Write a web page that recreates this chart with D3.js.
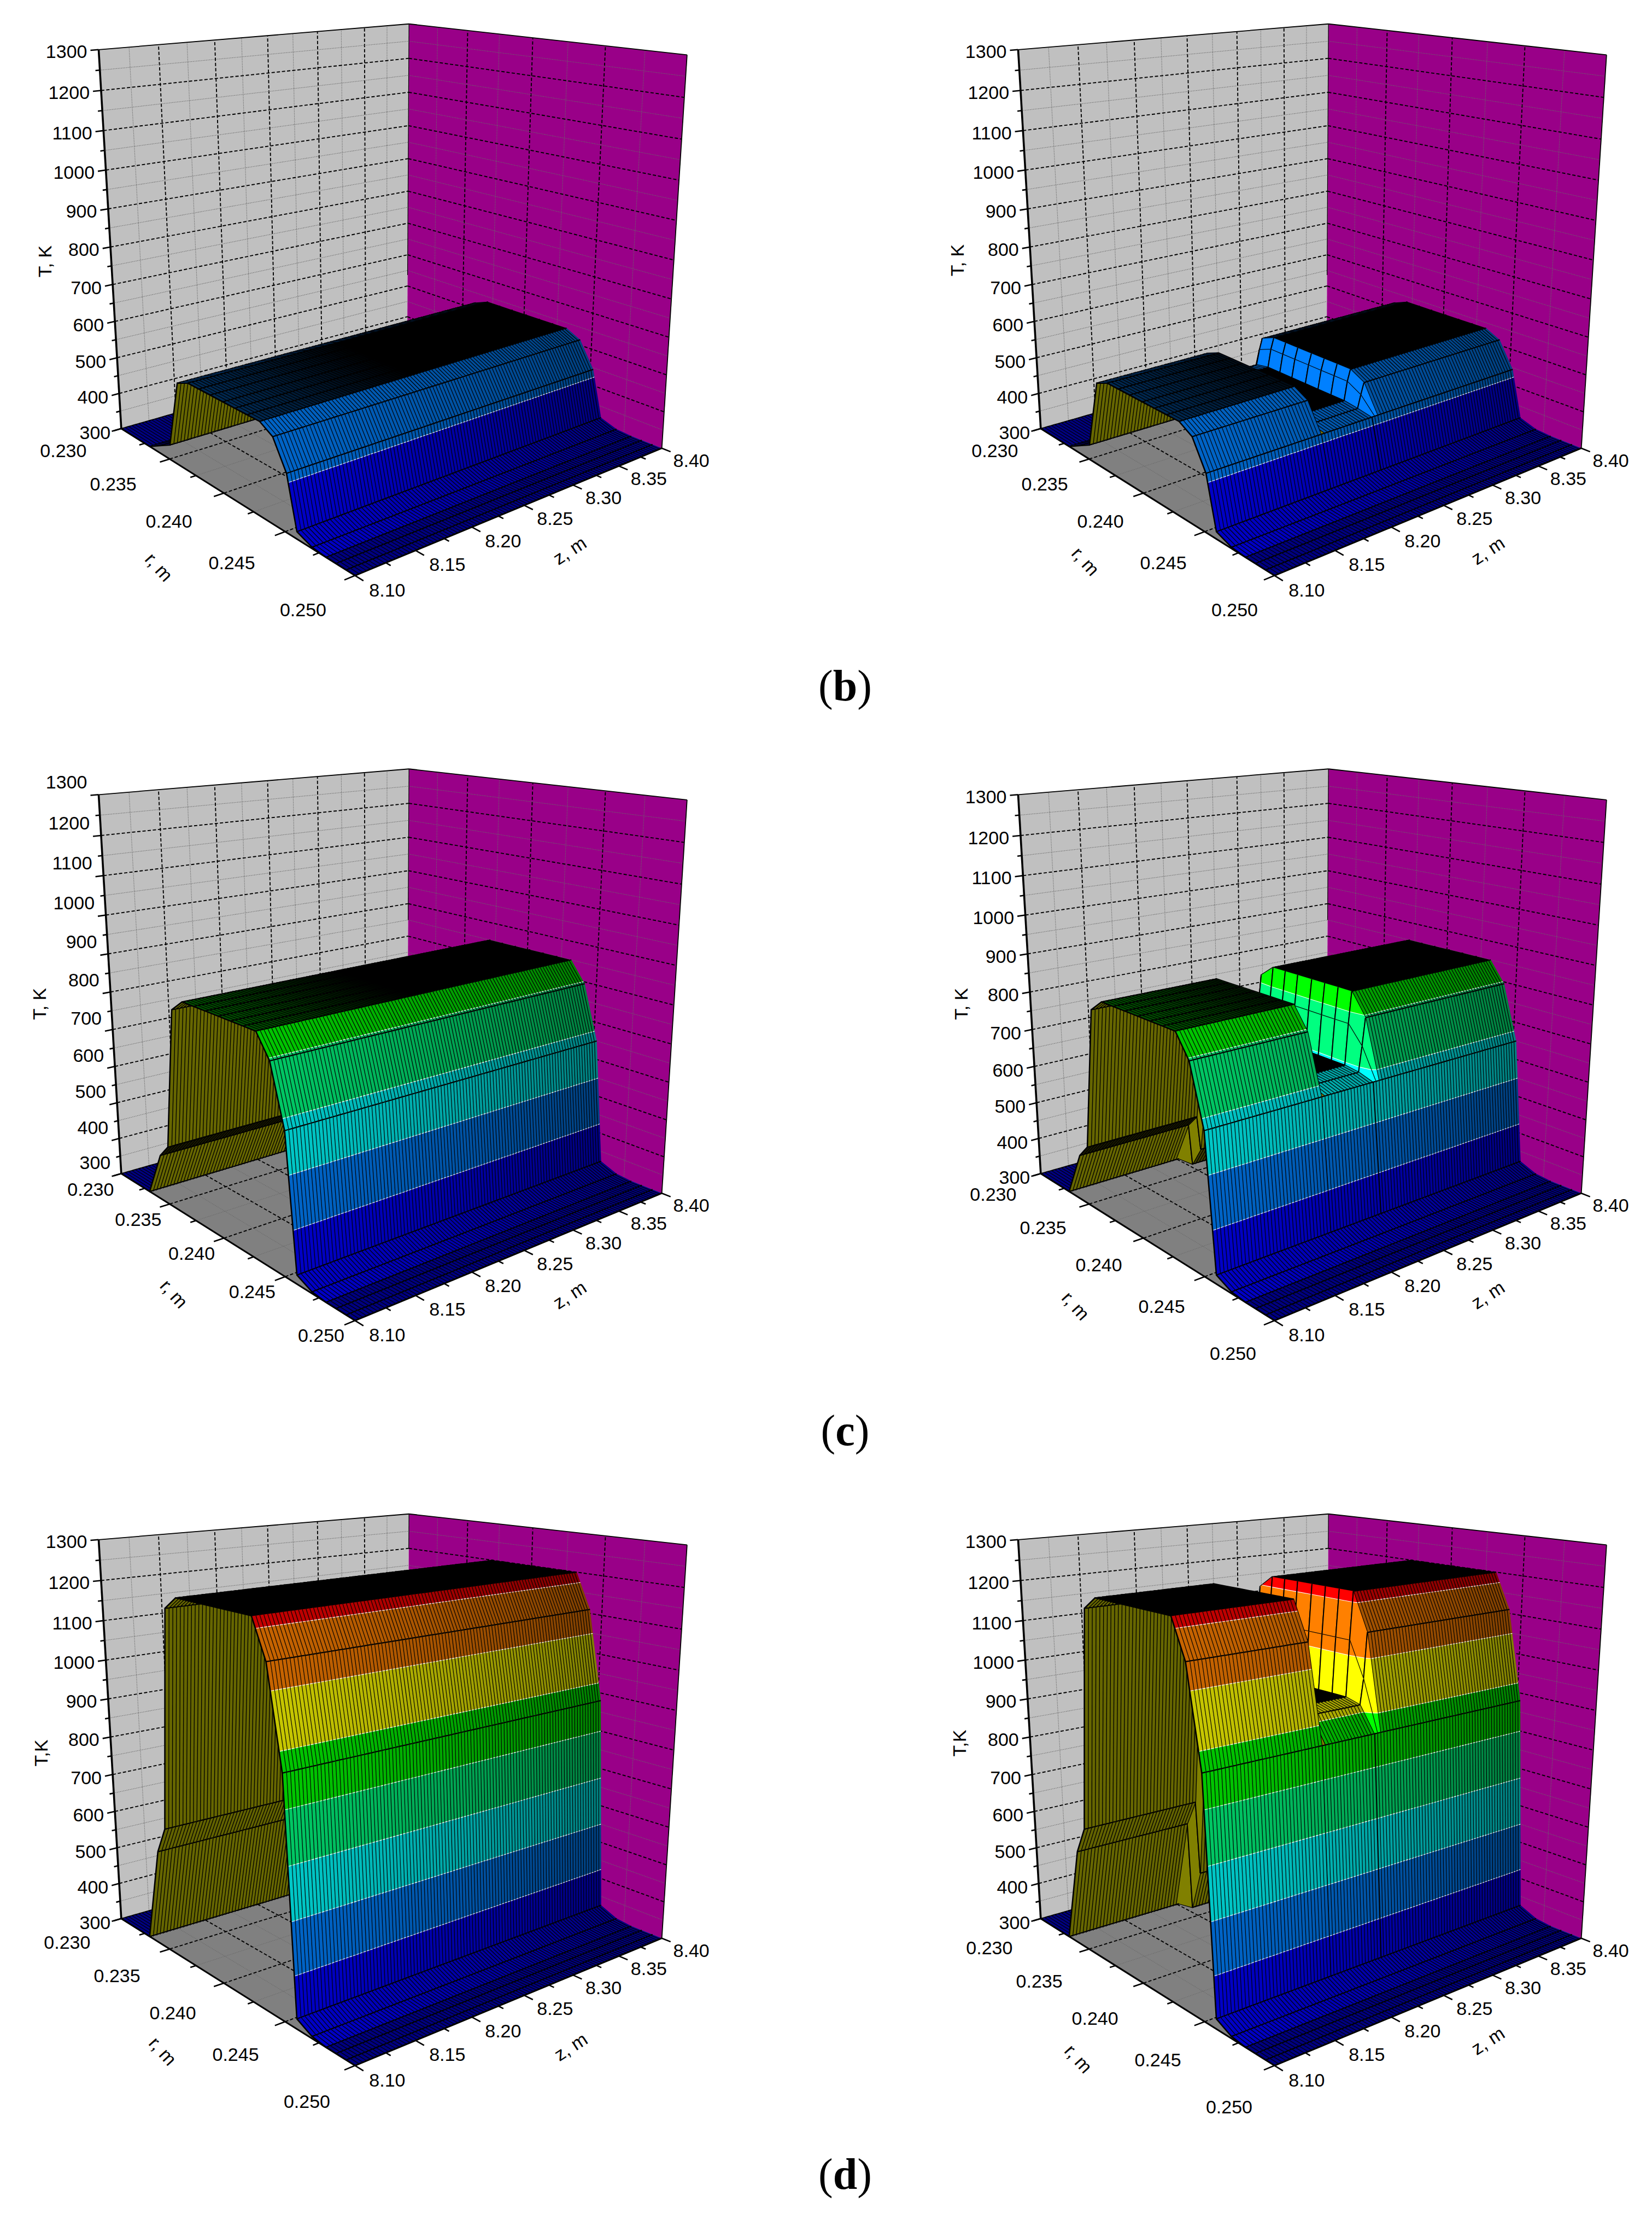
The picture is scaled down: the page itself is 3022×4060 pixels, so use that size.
<!DOCTYPE html>
<html><head><meta charset="utf-8">
<style>html,body{margin:0;padding:0;background:#fff}svg{display:block}text{font-family:"Liberation Sans",Arial,sans-serif;fill:#000}</style>
<script src="https://cdn.jsdelivr.net/npm/d3@7/dist/d3.min.js"></script>
</head><body><svg id="c" width="3022" height="4060"></svg>
<script>
// ---------- data ----------
const tempTicks = [300,400,500,600,700,800,900,1000,1100,1200,1300];
const rTicks = ["0.230","0.235","0.240","0.245","0.250"];
const zTicks = ["8.10","8.15","8.20","8.25","8.30","8.35","8.40"];
const bandLevels = [300,425,550,675,800,925,1050,1175,1300];
const bandColors = ["#0000ff","#0080ff","#00ffff","#00ff80","#00ff00","#ffff00","#ff8000","#ff0000"];
// radial mesh nodes (m)
const rNodes = [0.2300,0.2330,0.2343,0.2351,0.2361,0.2371,0.2381,0.2391,0.2402,0.2412,0.2422,0.2432,0.2442,0.2452,0.2459,0.2470,0.2480,0.2487,0.2494,0.2500];
// temperature profiles across r (K), one per stage
const mainB = [300,300,325,340,520,535,535,535,535,535,535,535,515,445,318,303,300,300,300,300];
const mainC = [300,300,420,455,820,850,850,850,850,850,850,850,795,650,322,304,300,300,300,300];
const mainD = [300,300,550,620,1170,1200,1200,1200,1200,1200,1200,1200,1110,880,325,305,300,300,300,300];
// right column: profile inside the gap, and on the step behind it
const gapB = [300,300,302,320,450,457,457,457,457,457,457,457,452,445,318,303,300,300,300,300];
const gapC = [300,300,305,360,655,667,667,667,667,667,667,667,662,650,322,304,300,300,300,300];
const gapD = [300,300,310,420,930,950,950,950,950,950,950,950,940,880,325,305,300,300,300,300];
const stepB = [300,300,315,330,490,505,505,505,505,505,505,505,485,445,318,303,300,300,300,300];
const stepC = [300,300,370,410,745,770,770,770,770,770,770,770,725,650,322,304,300,300,300,300];
const stepD = [300,300,430,520,1050,1085,1085,1085,1085,1085,1085,1085,1000,880,325,305,300,300,300,300];
// ---------- layout ----------
const boxCorners = [[0,0,0,647,1056],[1,0,0,1212,814.5],[0,1,0,223,781.4],[1,1,0,744.4,638.7],[0,1,1,181.3,90.5],[1,1,1,746.9,41.9],[1,0,1,1257.5,103]];
const panels = [
 {cap:"b",dx:0,dy:0,main:mainB,blackFrom:.45,tl:0,rl:[0,0,0,0],Tt:[81.5,478,"T, K"],rt:[291,1037],zt:[1042,1006.6]},
 {cap:null,dx:1682,dy:0,main:mainB,gap:gapB,step:stepB,blackFrom:.45,tl:0,rl:[22,0,22,0],Tt:[1750.7,476,"T, K"],rt:[1986,1026.5],zt:[2721.7,1006.6]},
 {cap:"c",dx:0,dy:1362.5,main:mainC,blackFrom:.45,tl:-27,rl:[50,-11,33,-35],Tt:[72,1836,"T, K"],rt:[318.5,2366],zt:[1042,2368]},
 {cap:null,dx:1682,dy:1362.5,main:mainC,gap:gapC,step:stepC,blackFrom:.45,tl:0,rl:[19,-2.5,19,-2.5],Tt:[1757.5,1836,"T, K"],rt:[1968,2388],zt:[2721.7,2368]},
 {cap:"d",dx:0,dy:2725,main:mainD,blackFrom:0,tl:0,rl:[7,3,7,3],Tt:[75,3206,"T,K"],rt:[298,3751],zt:[1044,3743]},
 {cap:null,dx:1682,dy:2725,main:mainD,gap:gapD,step:stepD,blackFrom:0,tl:0,rl:[12,13,12,13],Tt:[1755,3188,"T,K"],rt:[1973,3765],zt:[2721.7,3732]}
];
const capPos = {b:[1546,1281],c:[1546,2643],d:[1546,4003]};
const uS = d3.scaleLinear().domain([8.10,8.40]).range([0,1]);
const vS = d3.scaleLinear().domain([0.250,0.230]).range([0,1]);
const tS = d3.scaleLinear().domain([300,1300]).range([0,1]);
const zGrid = d3.range(101).map(i=>8.10+i*0.003);
const GAP0=34,GAP1=49,STEP=50,GROOVE=[33,49];

function solve(A,b){const n=b.length;for(let i=0;i<n;i++){let m=i;for(let k=i+1;k<n;k++)if(Math.abs(A[k][i])>Math.abs(A[m][i]))m=k;[A[i],A[m]]=[A[m],A[i]];[b[i],b[m]]=[b[m],b[i]];for(let k=i+1;k<n;k++){const f=A[k][i]/A[i][i];for(let c=i;c<n;c++)A[k][c]-=f*A[i][c];b[k]-=f*b[i];}}const x=Array(n).fill(0);for(let i=n-1;i>=0;i--){let s=b[i];for(let c=i+1;c<n;c++)s-=A[i][c]*x[c];x[i]=s/A[i][i];}return x;}
function fit(c){const M=[],B=[];c.forEach(([u,v,t,x,y])=>{x/=1000;y/=1000;M.push([u,v,t,1,0,0,0,0,-x*u,-x*v,-x*t]);B.push(x);M.push([0,0,0,0,u,v,t,1,-y*u,-y*v,-y*t]);B.push(y);});
 const n=11,A=d3.range(n).map(()=>Array(n).fill(0)),b=Array(n).fill(0);M.forEach((r,k)=>{for(let i=0;i<n;i++){b[i]+=r[i]*B[k];for(let j=0;j<n;j++)A[i][j]+=r[i]*r[j];}});return solve(A,b);}
const H = fit(boxCorners);
const proj0=(u,v,t)=>{const w=1+H[8]*u+H[9]*v+H[10]*t;return[1000*(H[0]*u+H[1]*v+H[2]*t+H[3])/w,1000*(H[4]*u+H[5]*v+H[6]*t+H[7])/w];};
const fmt=n=>n.toFixed(1);
const pathOf=pts=>"M"+pts.map(p=>fmt(p[0])+" "+fmt(p[1])).join("L");

function clip(poly,lo,hi){const cut=(pts,lim,keepAbove)=>{const out=[];for(let i=0;i<pts.length;i++){const a=pts[i],b=pts[(i+1)%pts.length];const ia=keepAbove?a[2]>=lim:a[2]<=lim,ib=keepAbove?b[2]>=lim:b[2]<=lim;if(ia)out.push(a);if(ia!==ib){const s=(lim-a[2])/(b[2]-a[2]);out.push([a[0]+s*(b[0]-a[0]),a[1]+s*(b[1]-a[1]),lim]);}}return out;};let p=cut(poly,lo,true);if(p.length)p=cut(p,hi,false);return p;}

const svg=d3.select("#c");
panels.forEach(drawPanel);
function drawPanel(P){
 const g=svg.append("g");
 const pr=(u,v,T)=>{const q=proj0(u,v,tS(T));return[q[0]+P.dx,q[1]+P.dy];};
 // walls
 const T0=300,T1=1300;
 const poly=(pts,fill)=>g.append("path").attr("d",pathOf(pts)+"Z").attr("fill",fill);
 poly([pr(0,1,T0),pr(1,1,T0),pr(1,1,T1),pr(0,1,T1)],"#c0c0c0");
 poly([pr(1,1,T0),pr(1,0,T0),pr(1,0,T1),pr(1,1,T1)],"#990088");
 poly([pr(0,0,T0),pr(1,0,T0),pr(1,1,T0),pr(0,1,T0)],"#808080");
 const gl=(a,b,major)=>g.append("line").attr("x1",a[0]).attr("y1",a[1]).attr("x2",b[0]).attr("y2",b[1]).attr("stroke",major?"#000":"#6a6a6a").attr("stroke-width",major?1.9:1.1).attr("stroke-dasharray",major?"6 3.5":"1.5 1.5");
 d3.range(0,13).forEach(k=>{const u=uS(8.10+k*.025),m=k%2===0;if(k>0&&k<12){gl(pr(u,1,T0),pr(u,1,T1),m);gl(pr(u,0,T0),pr(u,1,T0),m);}});
 d3.range(0,9).forEach(k=>{const v=vS(.23+k*.0025),m=k%2===0;if(k>0&&k<8){gl(pr(1,v,T0),pr(1,v,T1),m);gl(pr(0,v,T0),pr(1,v,T0),m);}});
 d3.range(1,20).forEach(k=>{const T=300+k*50,m=k%2===0;gl(pr(0,1,T),pr(1,1,T),m);gl(pr(1,1,T),pr(1,0,T),m);});
 // surface
 const rowOf=i=>{if(!P.gap)return P.main;if(i>=GAP0&&i<=GAP1)return P.gap;if(i===STEP)return P.step;return P.main;};
 const V=rNodes.map(r=>vS(r));
 const U=zGrid.map(z=>uS(z));
 const surf=g.append("g");
 const floorA=d3.polygonArea([pr(0,0,300),pr(1,0,300),pr(1,1,300),pr(0,1,300)]);
 const toBlack=(c,m)=>d3.interpolateRgb(c,"#000")(m);
 for(let i=U.length-2;i>=0;i--){
  const a=rowOf(i),b=rowOf(i+1);
  const coarse=P.gap&&(i===GAP1||i===STEP);
  for(let j=0;j<rNodes.length-1;j++){
   const wallMix=(coarse&&j<13)?0:.22+.28*U[i];
   const q=[[U[i],V[j],a[j]],[U[i+1],V[j],b[j]],[U[i+1],V[j+1],b[j+1]],[U[i],V[j+1],a[j+1]]];
   const sc=q.map(c=>pr(c[0],c[1],c[2]));
   const top=d3.polygonArea(sc)*floorA<=0;
   const flat=Math.abs(a[j]-a[j+1])<1&&Math.abs(b[j]-b[j+1])<1&&Math.abs(a[j]-b[j])<1&&a[j]>320;
   const inGap=P.gap&&i>=GAP0&&i<GAP1;
   if(!top){
    const d=Math.abs(a[j]-a[j+1]);
    const facet=P.gap&&(i===GAP0-1||i===GAP1+1);
    const mix=facet?0:(j===1||j===2?Math.max(.2,Math.min(1,1-(d/80)*(d/80))):.2);
    surf.append("path").attr("d",pathOf(sc)+"Z").attr("fill",toBlack("#808000",mix));
   }
   else if(flat){
    const mix=inGap||P.blackFrom===0?1:Math.min(1,.68+.32*U[i]/P.blackFrom);
    const band=bandColors[d3.bisectRight(bandLevels,a[j])-1];
    surf.append("path").attr("d",pathOf(sc)+"Z").attr("fill",toBlack(band,mix));
   }
   else{
    const isFloor=Math.max(a[j],a[j+1],b[j],b[j+1])<=300;
    for(let k=0;k<bandColors.length;k++){
     const lo=bandLevels[k],hi=bandLevels[k+1];
     if(Math.max(a[j],a[j+1],b[j],b[j+1])<lo||Math.min(a[j],a[j+1],b[j],b[j+1])>hi)continue;
     const c=clip(q,lo,hi);if(c.length<3)continue;
     const col=toBlack(bandColors[k],isFloor?.5:wallMix);
     surf.append("path").attr("d",pathOf(c.map(p=>pr(p[0],p[1],p[2])))+"Z").attr("fill",col).attr("stroke",col).attr("stroke-width",.3);
     for(let m=0;m<c.length;m++){const s=c[m],e=c[(m+1)%c.length];if(k>0&&Math.abs(s[2]-lo)<1e-6&&Math.abs(e[2]-lo)<1e-6){const A=pr(s[0],s[1],s[2]),B=pr(e[0],e[1],e[2]);surf.append("path").attr("d",pathOf([A,B])).attr("stroke","#fff").attr("stroke-width",1.1).attr("fill","none");}}
    }
   }
   // line along z at this r node
   surf.append("path").attr("d",pathOf([sc[0],sc[1]])).attr("stroke","#000").attr("stroke-width",2).attr("fill","none");
   surf.append("path").attr("d",pathOf([sc[3],sc[2]])).attr("stroke","#000").attr("stroke-width",2).attr("fill","none");
  }
  // line across r at the near edge of this strip
  const line=rNodes.map((r,j)=>pr(U[i],V[j],a[j]));
  surf.append("path").attr("d",pathOf(line)).attr("stroke","#000").attr("stroke-width",2.6).attr("fill","none");
  if(P.gap&&GROOVE.includes(i)){surf.append("path").attr("d",pathOf(line.slice(13,15))).attr("stroke","#000").attr("stroke-width",i===49?4.5:3.4).attr("fill","none");}
 }
 // frame
 const edge=(a,b,w)=>g.append("line").attr("x1",a[0]).attr("y1",a[1]).attr("x2",b[0]).attr("y2",b[1]).attr("stroke","#000").attr("stroke-width",w);
 edge(pr(0,1,T0),pr(0,1,T1),3.6);edge(pr(0,1,T1),pr(1,1,T1),1.8);edge(pr(1,1,T1),pr(1,0,T1),1.8);edge(pr(1,0,T1),pr(1,0,T0),1.8);edge(pr(1,1,T1),pr(1,1,Math.max(d3.max(P.main),300)),1.2);
 edge(pr(0,1,T0),pr(0,0,T0),3);edge(pr(0,0,T0),pr(1,0,T0),3);
 // ticks
 d3.range(0,21).forEach(k=>{const T=300+k*50,m=k%2===0;edge(pr(0,1,T),pr(m?-.022:-.012,1,T),2.6);});
 d3.range(0,9).forEach(k=>{const v=vS(.23+k*.0025),m=k%2===0;edge(pr(0,v,T0),pr(m?-.028:-.016,v,T0),2.6);});
 d3.range(0,13).forEach(k=>{const u=uS(8.10+k*.025),m=k%2===0;edge(pr(u,0,T0),pr(u,m?-.028:-.016,T0),2.6);});
 // labels
 const F=34;
 const tx=(x,y,s,anchor)=>g.append("text").attr("x",x).attr("y",y).attr("font-size",F).attr("text-anchor",anchor||"middle").text(s);
 tempTicks.forEach((T,k)=>{const p=pr(-.022,1,T);tx(p[0]-6,p[1]+12+P.tl+(k>=5?2:0)-(k>=5?0:-3),String(T),"end");});
 rTicks.forEach((s,k)=>{const p=pr(0,vS(+s),T0),f=k/4;tx(p[0]-106+f*11+P.rl[0]+f*(P.rl[2]-P.rl[0]),p[1]+52+f*22+P.rl[1]+f*(P.rl[3]-P.rl[1]),s);});
 zTicks.forEach((s,k)=>{const p=pr(uS(+s),0,T0),f=k/6;tx(p[0]+59-f*5,p[1]+38-f*4,s);});
 const rot=(x,y,ang,s)=>g.append("text").attr("transform",`translate(${x},${y}) rotate(${ang})`).attr("font-size",F).attr("text-anchor","middle").attr("dominant-baseline","central").text(s);
 rot(P.Tt[0],P.Tt[1],-90,P.Tt[2]);
 rot(P.rt[0],P.rt[1],48,"r, m");
 rot(P.zt[0],P.zt[1],-33,"z, m");
 if(P.cap){const c=capPos[P.cap];const t=svg.append("text").attr("x",c[0]).attr("y",c[1]).attr("text-anchor","middle").style("font-family","'Liberation Serif',serif").attr("font-size",80);
  t.append("tspan").text("(");t.append("tspan").attr("font-weight","bold").text(P.cap);t.append("tspan").text(")");}
}
</script></body></html>
